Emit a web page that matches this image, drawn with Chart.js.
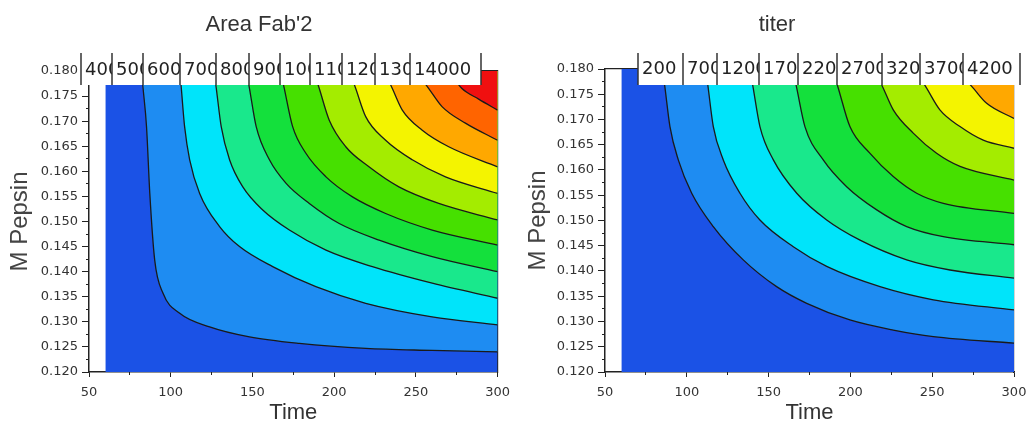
<!DOCTYPE html>
<html>
<head>
<meta charset="utf-8">
<script src="https://cdn.jsdelivr.net/npm/chart.js@4.4.1/dist/chart.umd.min.js"></script>
<style>
  html, body { margin: 0; padding: 0; background: #fff; }
  #wrap { position: relative; width: 1036px; height: 426px; }
  canvas { position: absolute; top: 0; }
  #c-fab { left: 0; }
  #c-titer { left: 518px; }
</style>
</head>
<body>
<div id="wrap">
  <canvas id="c-fab" width="518" height="426"></canvas>
  <canvas id="c-titer" width="518" height="426"></canvas>
</div>
<script>
// NÍVEIS DA LEGENDA (caixas em cima de cada gráfico)
const fabLevels = [4000, 5000, 6000, 7000, 8000, 9000, 10000, 11000, 12000, 13000, 14000];
const titerLevels = [200, 700, 1200, 1700, 2200, 2700, 3200, 3700, 4200];

// cores das faixas, da mais baixa para a mais alta
const bandColors = ['#1b52e6', '#1e8cf2', '#00e4fa', '#19e88c', '#14e03c', '#46e000',
                    '#a4ec00', '#f4f400', '#ffa800', '#ff6400', '#f01010'];

// eixos
const timeTicks = [50, 100, 150, 200, 250, 300];
const timeMinorTicks = [75, 125, 175, 225, 275];
const pepsinTicks = [0.120, 0.125, 0.130, 0.135, 0.140, 0.145, 0.150, 0.155, 0.160, 0.165, 0.170, 0.175, 0.180];
const pepsinMinorTicks = [0.1225, 0.1275, 0.1325, 0.1375, 0.1425, 0.1475, 0.1525, 0.1575, 0.1625, 0.1675, 0.1725, 0.1775];

// região com dados (Time 60..300), faixa mais baixa
const dataRegion = [[60, 0.120], [300, 0.120]];

// CONTORNOS - AREA FAB'2 (do topo até a borda direita)
const fabContours = [
  [[82.1, 0.1800], [83.1, 0.1765], [85.2, 0.1689], [87.2, 0.1556], [90.2, 0.1423], [95.3, 0.1357], [105.5, 0.1317],
   [123.8, 0.1290], [148.2, 0.1270], [178.7, 0.1257], [219.3, 0.1247], [259.9, 0.1243], [300, 0.1240]],
  [[105.6, 0.1800], [106.5, 0.1765], [108.5, 0.1689], [111.6, 0.1623], [117.7, 0.1556], [129.9, 0.1490], [142.1, 0.1450],
   [162.4, 0.1410], [188.8, 0.1370], [219.3, 0.1337], [259.9, 0.1310], [300, 0.1294]],
  [[126.5, 0.1800], [127.9, 0.1765], [130.9, 0.1689], [136.0, 0.1623], [144.1, 0.1569], [156.3, 0.1523], [172.6, 0.1483],
   [195.0, 0.1443], [223.4, 0.1410], [260.0, 0.1377], [300, 0.1347]],
  [[146.3, 0.1800], [148.2, 0.1765], [152.3, 0.1689], [160.4, 0.1623], [170.6, 0.1576], [184.8, 0.1536], [203.1, 0.1496],
   [227.5, 0.1463], [260.0, 0.1430], [300, 0.1400]],
  [[167.2, 0.1800], [169.5, 0.1765], [174.6, 0.1689], [182.7, 0.1636], [195.0, 0.1589], [211.2, 0.1549], [231.5, 0.1516],
   [260.0, 0.1483], [300, 0.1453]],
  [[187.5, 0.1800], [190.9, 0.1765], [197.0, 0.1702], [207.1, 0.1649], [221.3, 0.1609], [239.6, 0.1569], [264.0, 0.1536],
   [300, 0.1503]],
  [[209.4, 0.1800], [213.2, 0.1765], [219.3, 0.1709], [231.5, 0.1662], [247.8, 0.1623], [268.1, 0.1589], [300, 0.1556]],
  [[230.6, 0.1800], [235.6, 0.1765], [241.7, 0.1722], [253.9, 0.1682], [270.1, 0.1649], [300, 0.1609]],
  [[250.0, 0.1800], [257.9, 0.1765], [266.0, 0.1729], [280.3, 0.1696], [300, 0.1662]],
  [[270.0, 0.1800], [278.2, 0.1765], [288.4, 0.1744], [300, 0.1722]]
];

// CONTORNOS - TITER
const titerContours = [
  [[85.2, 0.1800], [86.7, 0.1762], [89.7, 0.1686], [94.8, 0.1620], [103.0, 0.1554], [116.2, 0.1488], [134.5, 0.1422],
   [154.9, 0.1369], [173.3, 0.1336], [199.7, 0.1303], [226.2, 0.1283], [250.7, 0.1270], [300, 0.1257]],
  [[111.6, 0.1800], [113.1, 0.1762], [116.2, 0.1686], [122.3, 0.1620], [132.5, 0.1554], [144.7, 0.1501], [165.1, 0.1448],
   [185.5, 0.1409], [218.1, 0.1369], [250.7, 0.1343], [300, 0.1323]],
  [[138.6, 0.1800], [140.6, 0.1762], [144.7, 0.1686], [152.9, 0.1620], [167.2, 0.1554], [185.5, 0.1501], [205.9, 0.1461],
   [234.4, 0.1422], [260.9, 0.1402], [300, 0.1386]],
  [[164.7, 0.1800], [167.2, 0.1762], [172.2, 0.1686], [183.4, 0.1620], [197.7, 0.1567], [216.1, 0.1521], [234.4, 0.1488],
   [256.8, 0.1468], [300, 0.1452]],
  [[189.1, 0.1800], [192.6, 0.1762], [199.7, 0.1686], [212.0, 0.1633], [226.2, 0.1587], [240.5, 0.1554], [256.8, 0.1534],
   [300, 0.1514]],
  [[214.7, 0.1800], [220.1, 0.1762], [226.2, 0.1719], [238.4, 0.1673], [252.7, 0.1633], [267.0, 0.1607], [300, 0.1580]],
  [[239.4, 0.1800], [246.6, 0.1762], [254.7, 0.1719], [267.0, 0.1686], [281.2, 0.1659], [300, 0.1643]],
  [[264.7, 0.1800], [275.1, 0.1762], [283.3, 0.1732], [300, 0.1702]]
];

const toXY = pts => pts.map(([x, y]) => ({ x, y }));

// caixa de níveis desenhada por cima da área do gráfico
const cellLegend = {
  id: 'cellLegend',
  afterDraw(chart, args, opts) {
    const { ctx } = chart;
    const e = opts.edges;
    ctx.save();
    ctx.fillStyle = '#fff';
    ctx.fillRect(e[0], opts.top, e[e.length - 1] - e[0], opts.bottom - opts.top);
    ctx.font = '18px "DejaVu Sans"';
    ctx.textBaseline = 'middle';
    ctx.fillStyle = '#222';
    opts.labels.forEach((lab, i) => {
      ctx.save();
      ctx.beginPath();
      ctx.rect(e[i], opts.top, e[i + 1] - e[i], opts.bottom - opts.top);
      ctx.clip();
      ctx.fillText(String(lab), e[i] + 4, opts.textY);
      ctx.restore();
    });
    ctx.strokeStyle = '#333';
    ctx.lineWidth = 1.5;
    e.forEach(x => {
      ctx.beginPath();
      ctx.moveTo(x, opts.lineTop);
      ctx.lineTo(x, opts.bottom);
      ctx.stroke();
    });
    ctx.restore();
  }
};

function buildDatasets(contours) {
  const n = contours.length;
  const sets = [{
    data: toXY(dataRegion), fill: 'end', backgroundColor: bandColors[0],
    borderWidth: 0, pointRadius: 0, order: n + 1
  }];
  contours.forEach((pts, i) => {
    sets.push({
      data: toXY(pts), fill: 'end', backgroundColor: bandColors[i + 1],
      borderColor: '#1a1a1a', borderWidth: 1.3, pointRadius: 0,
      cubicInterpolationMode: 'monotone', order: n - i
    });
  });
  return sets;
}

const tickFont = { family: 'DejaVu Sans', size: 13 };
const titleFont = { family: 'Liberation Sans', size: 22, weight: 'normal' };
const yTitleFont = { family: 'Liberation Sans', size: 24, weight: 'normal' };

function makeChart(cfg) {
  const ctx = document.getElementById(cfg.id).getContext('2d');
  return new Chart(ctx, {
    type: 'line',
    data: { datasets: buildDatasets(cfg.contours) },
    plugins: [cellLegend],
    options: {
      responsive: false,
      animation: false,
      events: [],
      layout: { padding: { left: cfg.pad, right: cfg.pad, top: 0, bottom: 0 } },
      plugins: {
        legend: { display: false },
        tooltip: { enabled: false },
        title: {
          display: true, text: cfg.title, color: '#333', font: titleFont,
          padding: { top: 12, bottom: cfg.titleBottom }
        },
        cellLegend: {
          labels: cfg.levels, edges: cfg.cells,
          top: 55, lineTop: 53, bottom: 85, textY: cfg.textY
        }
      },
      scales: {
        x: {
          type: 'linear', axis: 'x', position: 'bottom', min: 50, max: 300, weight: 1,
          afterBuildTicks: s => { s.ticks = timeTicks.map(v => ({ value: v })); },
          afterFit: s => { s.height = 54; },
          grid: { drawOnChartArea: false, tickLength: 5, tickColor: '#222' },
          border: { color: '#222', width: 1.5 },
          ticks: { color: '#333', font: tickFont, padding: 8, maxRotation: 0, autoSkip: false },
          title: { display: true, text: 'Time', color: '#333', font: titleFont, padding: 0 }
        },
        xMinor: {
          type: 'linear', axis: 'x', position: 'bottom', min: 50, max: 300, weight: 0,
          afterBuildTicks: s => { s.ticks = timeMinorTicks.map(v => ({ value: v })); },
          afterFit: s => { s.height = 0; },
          grid: { drawOnChartArea: false, tickLength: 3, tickColor: '#222' },
          border: { display: false },
          ticks: { display: false }
        },
        xTop: {
          type: 'linear', axis: 'x', position: 'top', min: 50, max: 300,
          afterFit: s => { s.height = 0; },
          grid: { display: false },
          border: { color: '#222', width: 1.2 },
          ticks: { display: false }
        },
        y: {
          type: 'linear', axis: 'y', position: 'left', min: 0.12, max: 0.18, weight: 1,
          afterBuildTicks: s => { s.ticks = pepsinTicks.map(v => ({ value: v })); },
          afterFit: s => { s.width = cfg.yWidth; },
          grid: { drawOnChartArea: false, tickLength: 7, tickColor: '#222' },
          border: { color: '#222', width: 1.5 },
          ticks: { color: '#333', font: tickFont, padding: 4, autoSkip: false, callback: v => v.toFixed(3) },
          title: { display: true, text: 'M Pepsin', color: '#444', font: yTitleFont,
                   padding: { top: cfg.yTitlePad, bottom: 0 } }
        },
        yMinor: {
          type: 'linear', axis: 'y', position: 'left', min: 0.12, max: 0.18, weight: 0,
          afterBuildTicks: s => { s.ticks = pepsinMinorTicks.map(v => ({ value: v })); },
          afterFit: s => { s.width = 0; },
          grid: { drawOnChartArea: false, tickLength: 3, tickColor: '#222' },
          border: { display: false },
          ticks: { display: false }
        },
        yRight: {
          type: 'linear', axis: 'y', position: 'right', min: 0.12, max: 0.18,
          afterFit: s => { s.width = 0; },
          grid: { display: false },
          border: { color: '#222', width: 1.2 },
          ticks: { display: false }
        }
      }
    }
  });
}

makeChart({
  id: 'c-fab', title: "Area Fab'2", levels: fabLevels, contours: fabContours,
  pad: 19, yWidth: 70, titleBottom: 32.6, yTitlePad: -13,
  cells: [81, 112, 143, 180, 216, 249, 280, 310, 342, 375, 410, 481], textY: 70
});

makeChart({
  id: 'c-titer', title: 'titer', levels: titerLevels, contours: titerContours,
  pad: 22, yWidth: 65, titleBottom: 30.6, yTitlePad: -16,
  cells: [120, 165, 199, 241, 280, 319, 364, 402, 445, 502], textY: 69
});
</script>
</body>
</html>
